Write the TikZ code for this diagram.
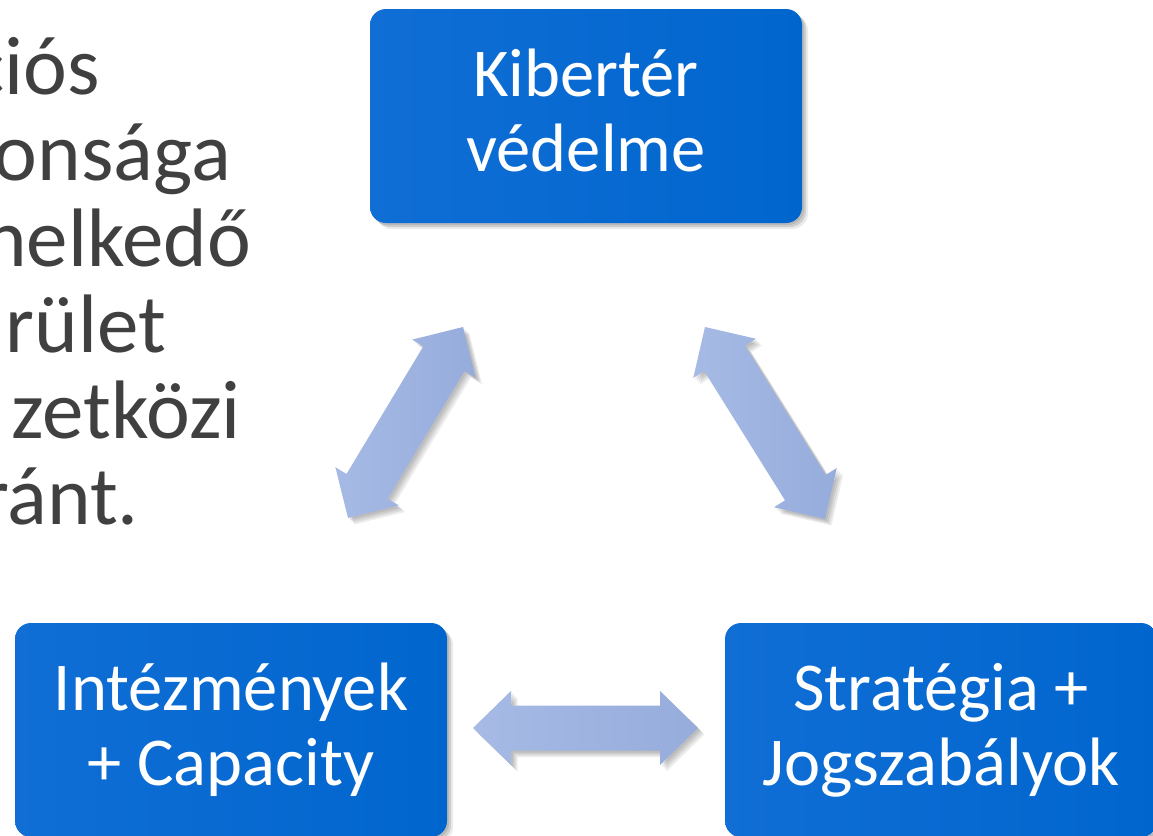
\documentclass[tikz,border=0pt]{standalone}
\usepackage{fontspec}
\setmainfont{Carlito}
\usetikzlibrary{calc}
\definecolor{boxblueL}{RGB}{16,110,213}
\definecolor{boxblueR}{RGB}{0,102,206}
\definecolor{arrL}{RGB}{166,186,229}
\definecolor{arrR}{RGB}{150,172,219}
\definecolor{txtgray}{RGB}{64,64,64}
\tikzset{
  bluebox/.style={rounded corners=16pt, minimum width=432pt, minimum height=214pt,
    inner sep=0pt, align=center, text=white, font=\fontsize{68.5}{75}\selectfont,
    preaction={fill=black, opacity=0.10, transform canvas={xshift=2pt,yshift=-2pt}},
    preaction={fill=black, opacity=0.12, transform canvas={xshift=4pt,yshift=-4pt}},
    preaction={fill=black, opacity=0.08, transform canvas={xshift=6pt,yshift=-6pt}},
    left color=boxblueL, right color=boxblueR},
  sidetext/.style={anchor=base east, inner sep=0pt, text=txtgray,
    font=\fontsize{83}{86}\selectfont},
  arrowfill/.style={left color=arrL, right color=arrR, draw=none},
  arrowshadow/.style={fill=black, opacity=0.07},
}
% block double arrow between two named coordinates
\newcommand\blockdbl[5]{% #1 #2 ends, #3 head length, #4 head half width, #5 shaft half width
  ($(#1)$) -- ($(#1)!#3!(#2)!#4!90:(#2)$) -- ($(#1)!#3!(#2)!#5!90:(#2)$)
  -- ($(#2)!#3!(#1)!#5!-90:(#1)$) -- ($(#2)!#3!(#1)!#4!-90:(#1)$) -- ($(#2)$)
  -- ($(#2)!#3!(#1)!#4!90:(#1)$) -- ($(#2)!#3!(#1)!#5!90:(#1)$)
  -- ($(#1)!#3!(#2)!#5!-90:(#2)$) -- ($(#1)!#3!(#2)!#4!-90:(#2)$) -- cycle}
\newcommand\drawblockdbl[5]{%
  \foreach \s in {2,3.5,5,6.5}{%
    \fill[arrowshadow, transform canvas={xshift=\s pt,yshift=-\s pt}] \blockdbl{#1}{#2}{#3}{#4}{#5};}%
  \path[arrowfill] \blockdbl{#1}{#2}{#3}{#4}{#5};}
\begin{document}
\begin{tikzpicture}[x=1pt,y=-1pt]
\useasboundingbox (0,0) rectangle (1153,835);
\clip (0,0) rectangle (1153,835);
\fill[white] (0,0) rectangle (1153,835);

% left text fragments
\node[sidetext] (t1) at (100,94) {ciós};
\node[sidetext] (t2) at (231,180) {onsága};
\node[sidetext] (t3) at (251,266) {helkedő};
\node[sidetext] (t4) at (166,352) {rület};
\node[sidetext] (t5) at (241,438) {zetközi};
\node[sidetext] (t6) at (139,524) {ránt.};

% boxes
\node[bluebox] (kib) at (586,116) {Kibertér\\védelme\vphantom{y}};
\node[bluebox] (int) at (231,730) {Intézmények\\+ Capacity};
\node[bluebox] (str) at (941,730) {Stratégia +\\Jogszabályok};

% arrow end coordinates
\coordinate (la) at (348,518);
\coordinate (lb) at (463,327);
\coordinate (ra) at (705,327);
\coordinate (rb) at (825,519);
\coordinate (ha) at (473,728);
\coordinate (hb) at (698,728);

\drawblockdbl{la}{lb}{37pt}{37pt}{24pt}
\drawblockdbl{ra}{rb}{37pt}{37pt}{24pt}
\drawblockdbl{ha}{hb}{38pt}{37pt}{22.5pt}
\end{tikzpicture}
\end{document}
